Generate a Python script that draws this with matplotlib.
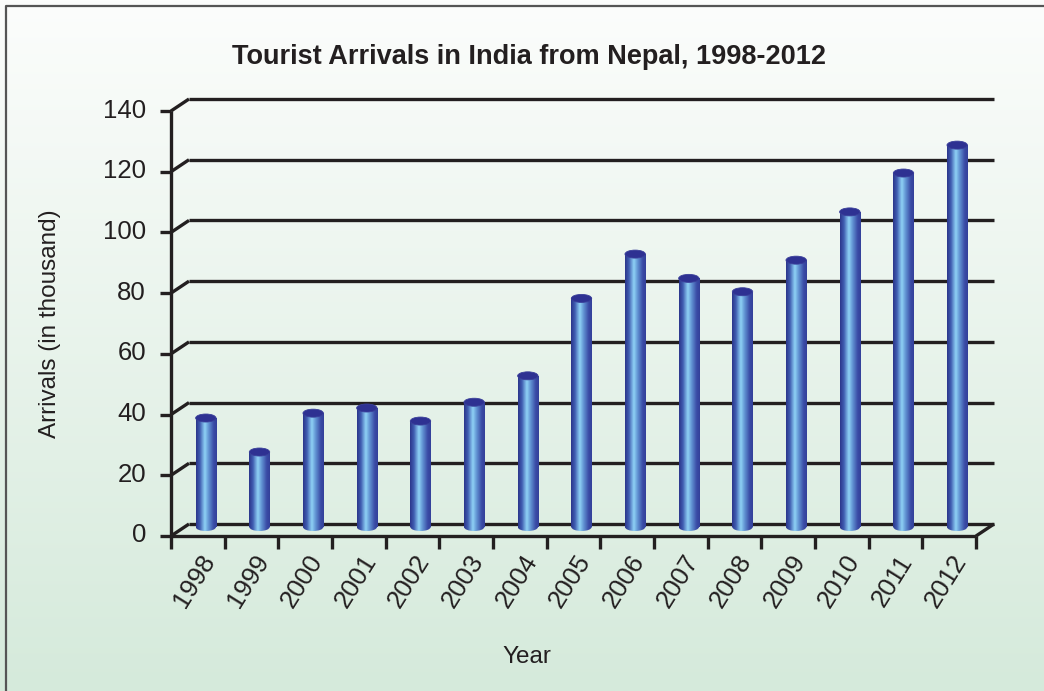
import matplotlib.pyplot as plt
import matplotlib.colors as mcolors
from matplotlib.patches import Ellipse, Rectangle
from matplotlib.transforms import ScaledTranslation
import numpy as np

plt.rcParams['font.family'] = ['Liberation Sans', 'DejaVu Sans']

years = ['1998', '1999', '2000', '2001', '2002', '2003', '2004', '2005',
         '2006', '2007', '2008', '2009', '2010', '2011', '2012']
arrivals = [35.9, 24.7, 37.5, 39.2, 34.9, 41.1, 49.8, 75.3,
            89.9, 81.9, 77.5, 87.9, 103.8, 116.6, 125.8]
y_ticks = [0, 20, 40, 60, 80, 100, 120, 140]

W, H = 1044, 691
fig = plt.figure(figsize=(W / 100, H / 100), dpi=100)

# background panel: white fading to pale green, border on top/left only
bg = fig.add_axes([0, 0, 1, 1], zorder=-10)
grad = np.linspace(0, 1, 256)[:, None]
bg_cmap = mcolors.LinearSegmentedColormap.from_list('bg', ['#fcfdfc', '#d5eadb'])
bg.imshow(grad, cmap=bg_cmap, aspect='auto', extent=[0, 1, 0, 1], origin='upper')
bg.plot([6 / W, 6 / W, 1.0], [0, 1 - 6 / H, 1 - 6 / H], color='#555555', lw=1.6)
bg.set_xlim(0, 1)
bg.set_ylim(0, 1)
bg.axis('off')

# front plane of the chart
left, right, bottom, top = 171, 976, 536, 111
ax = fig.add_axes([left / W, 1 - bottom / H, (right - left) / W, (bottom - top) / H])
ax.set_facecolor('none')
n = len(years)

px_x = (right - left) / n          # pixels per category
px_y = (bottom - top) / 140        # pixels per unit
dx, dy = 18 / px_x, 12 / px_y      # depth of the back wall in data units

line_kw = dict(color='#231f20', lw=2.4, solid_capstyle='butt', clip_on=False)

# back wall gridlines with the slanted connectors on the left
for v in y_ticks:
    ax.plot([-0.5 + dx, n - 0.5 + dx], [v + dy, v + dy], zorder=1, **line_kw)
    ax.plot([-0.5, -0.5 + dx], [v, v + dy], zorder=1, **line_kw)

# floor: front edge and right slant, plus the front value axis
ax.plot([-0.5, n - 0.5], [0, 0], zorder=5, **line_kw)
ax.plot([n - 0.5, n - 0.5 + dx], [0, dy], zorder=5, **line_kw)
ax.plot([-0.5, -0.5], [0, 140], zorder=5, **line_kw)

# cylinders, standing a little way into the depth
cyl_cmap = mcolors.LinearSegmentedColormap.from_list(
    'cyl', [(0.0, '#2b368c'), (0.18, '#3f5cb0'), (0.42, '#8fd2f6'),
            (0.62, '#5f8fd0'), (0.85, '#3a4ca6'), (1.0, '#34409a')])
row = np.linspace(0, 1, 64)[None, :]
bw = 0.38
cx_off, cy_off = 8 / px_x, 9 / px_y
ell_h = 8 / px_y
for i, v in enumerate(arrivals):
    xc = i + cx_off
    x0, x1 = xc - bw / 2, xc + bw / 2
    y0 = cy_off
    top_y = y0 + v
    body = ax.imshow(row, cmap=cyl_cmap, aspect='auto', interpolation='bilinear',
                     extent=[x0, x1, y0, top_y], zorder=3)
    body.set_clip_path(Rectangle((x0, y0), bw, v, transform=ax.transData))
    base = ax.imshow(row, cmap=cyl_cmap, aspect='auto', interpolation='bilinear',
                     extent=[x0, x1, y0 - ell_h, y0 + ell_h], zorder=3)
    base.set_clip_path(Ellipse((xc, y0), bw, ell_h, transform=ax.transData))
    ax.add_patch(Ellipse((xc, top_y), bw, ell_h, facecolor='#2e3192',
                         edgecolor='#3a3f9a', lw=0.6, zorder=4))

ax.set_xlim(-0.5, n - 0.5)
ax.set_ylim(0, 140)

for s in ax.spines.values():
    s.set_visible(False)

ax.set_yticks(y_ticks)
ax.set_yticklabels([str(t) for t in y_ticks], fontsize=18.5, color='#231f20')
ax.tick_params(axis='y', length=8, width=2.4, color='#231f20', pad=10)
for lab in ax.get_yticklabels():
    lab.set_transform(lab.get_transform() + ScaledTranslation(0, 3 / 100, fig.dpi_scale_trans))

ax.set_xticks(range(n))
ax.set_xticklabels(years, fontsize=18.5, color='#231f20', rotation=58,
                   ha='right', va='center', rotation_mode='anchor')
ax.tick_params(axis='x', which='major', length=0, pad=15)
for lab in ax.get_xticklabels():
    lab.set_transform(lab.get_transform() + ScaledTranslation(12 / 100, 0, fig.dpi_scale_trans))
ax.set_xticks(np.arange(-0.5, n, 1.0), minor=True)
ax.tick_params(axis='x', which='minor', length=9, width=2.4, color='#231f20')

fig.text(529 / W, 1 - 57 / H, 'Tourist Arrivals in India from Nepal, 1998-2012',
         fontsize=19.5, fontweight='bold', color='#231f20', ha='center', va='center')
ax.set_ylabel('Arrivals (in thousand)', fontsize=17.5, color='#231f20', labelpad=30)
fig.text(527 / W, 1 - 657 / H, 'Year', fontsize=17.5, color='#231f20',
         ha='center', va='center')

fig.savefig('out.png', dpi=100)
